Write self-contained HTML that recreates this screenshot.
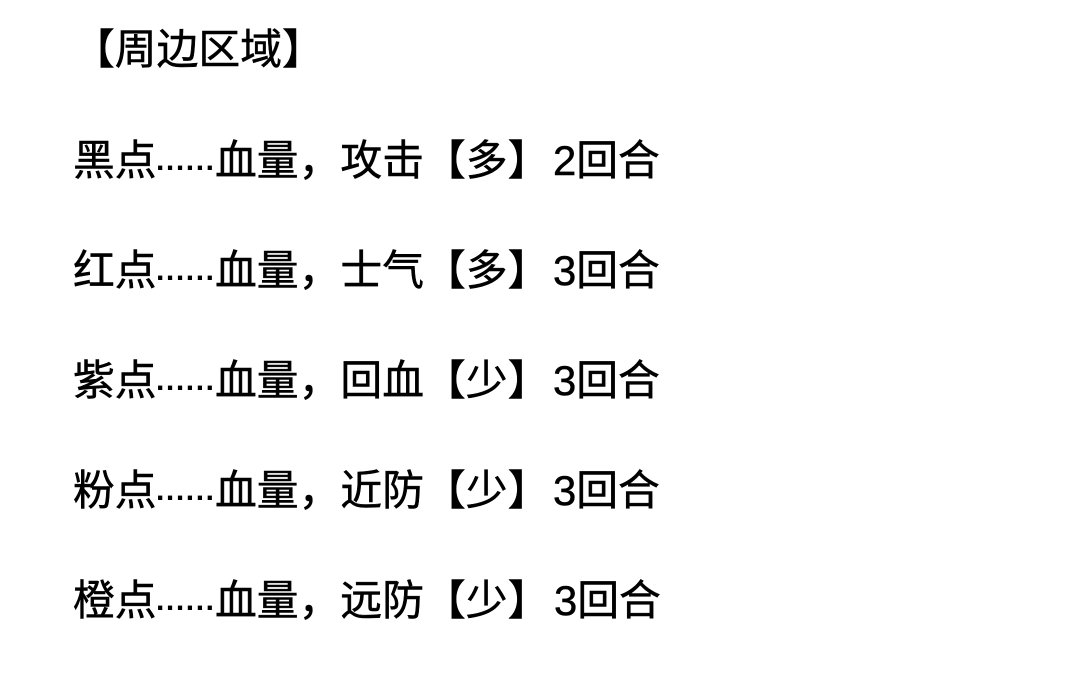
<!DOCTYPE html>
<html lang="zh">
<head>
<meta charset="utf-8">
<style>
html,body{margin:0;padding:0;background:#fff;}
#p{position:relative;width:1075px;height:687px;overflow:hidden;background:#fff;color:#000;
font-family:"Liberation Sans","Noto Sans CJK SC",sans-serif;font-size:41.8px;line-height:42px;-webkit-text-stroke:0.5px #000;}
#p div{position:absolute;white-space:nowrap;}
#p .d{font-size:30px;font-weight:bold;letter-spacing:1.6px;-webkit-text-stroke:0;}
</style>
</head>
<body>
<div id="p">
<div style="left:73px;top:29px;">【周边区域】</div>

<div style="left:73px;top:140px;">黑点</div>
<div style="left:156px;top:140px;" class="d">......</div>
<div style="left:215px;top:140px;">血量，攻击【多】</div>
<div style="left:553px;top:140px;">2回合</div>

<div style="left:73px;top:250px;">红点</div>
<div style="left:156px;top:250px;" class="d">......</div>
<div style="left:215px;top:250px;">血量，士气【多】</div>
<div style="left:553px;top:250px;">3回合</div>

<div style="left:73px;top:360px;">紫点</div>
<div style="left:156px;top:360px;" class="d">......</div>
<div style="left:215px;top:360px;">血量，回血【少】</div>
<div style="left:553px;top:360px;">3回合</div>

<div style="left:73px;top:470px;">粉点</div>
<div style="left:156px;top:470px;" class="d">......</div>
<div style="left:215px;top:470px;">血量，近防【少】</div>
<div style="left:553px;top:470px;">3回合</div>

<div style="left:73px;top:580px;">橙点</div>
<div style="left:156px;top:580px;" class="d">......</div>
<div style="left:215px;top:580px;">血量，远防【少】</div>
<div style="left:554px;top:580px;">3回合</div>
</div>
</body>
</html>
